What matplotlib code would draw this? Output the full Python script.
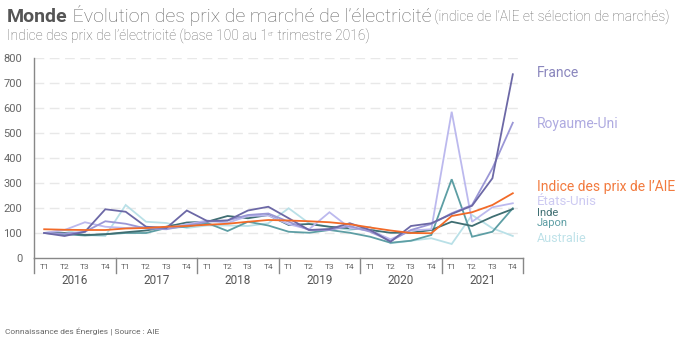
import matplotlib.pyplot as plt
from matplotlib.transforms import blended_transform_factory

plt.rcParams['font.family'] = ['Roboto', 'DejaVu Sans']

# Trimestres 2016 -> 2021
years = ["2016", "2017", "2018", "2019", "2020", "2021"]
quarters = ["T1", "T2", "T3", "T4"]

# Indices (base 100 au 1er trimestre 2016)
france = [100, 88, 105, 195, 185, 125, 120, 190, 148, 150, 190, 205,
          159, 112, 116, 139, 112, 65, 128, 139, 176, 209, 319, 735]
royaume_uni = [100, 97, 105, 147, 137, 118, 115, 130, 145, 150, 172, 178,
               145, 112, 112, 128, 105, 68, 112, 136, 179, 212, 359, 541]
etats_unis = [100, 112, 143, 125, 120, 125, 120, 135, 150, 140, 168, 170,
              135, 115, 183, 120, 110, 75, 110, 115, 585, 145, 203, 219]
inde = [100, 100, 92, 95, 103, 110, 125, 142, 145, 168, 159, 172,
        132, 136, 125, 119, 112, 101, 101, 112, 145, 128, 165, 196]
japon = [100, 95, 90, 95, 100, 100, 120, 125, 140, 108, 145, 130,
         105, 101, 112, 101, 85, 61, 69, 92, 315, 85, 105, 199]
australie = [100, 112, 92, 88, 212, 145, 140, 120, 130, 130, 128, 139,
             199, 139, 125, 112, 125, 59, 69, 79, 56, 172, 119, 88]
indice_aie = [115, 113, 112, 112, 118, 120, 125, 128, 133, 137, 145, 152,
              150, 147, 143, 135, 122, 110, 100, 99, 168, 183, 212, 259]

# nom, valeurs, couleur de ligne, couleur du libellé, y du libellé (px), taille
series = [
    ("Australie", australie, "#b9e0e7", "#bfe2e9", 238, 9),
    ("Japon", japon, "#5d9ea4", "#5d9ea4", 223.5, 8),
    ("Inde", inde, "#3f6e72", "#3f6e72", 213.5, 8),
    ("États-Unis", etats_unis, "#bcb9ee", "#cdcaf2", 201.5, 9.5),
    ("Royaume-Uni", royaume_uni, "#9b97d6", "#aeaae0", 124, 10),
    ("France", france, "#6c68a6", "#8a86bd", 73, 10),
    ("Indice des prix de l\u2019AIE", indice_aie, "#f26a28", "#f27a3e", 187, 10),
]

W, H = 700, 344
fig = plt.figure(figsize=(W / 100, H / 100), dpi=100)
ax = fig.add_axes([34 / W, (H - 258) / H, (523 - 34) / W, 200 / H])

x = list(range(len(years) * len(quarters)))
for name, vals, color, lcolor, ly, fs in series:
    ax.plot(x, vals, color=color, lw=1.3, solid_joinstyle="miter", zorder=3)
    fig.text(537 / W, 1 - ly / H, name, color=lcolor, fontsize=fs,
             va="center", ha="left")

ax.set_xlim(-0.5, 23.5)
ax.set_ylim(0, 800)
ax.set_yticks(range(0, 801, 100))
ax.tick_params(axis="y", length=0, pad=8.5, labelsize=8, labelcolor="#666666")
for t in range(100, 801, 100):
    ax.axhline(t, color="#e8e8e8", lw=1, dashes=(7, 4), zorder=1)

ax.set_xticks(x)
ax.set_xticklabels(quarters * len(years))
ax.tick_params(axis="x", length=0, pad=4, labelsize=6, labelcolor="#666666")

for side in ["top", "right"]:
    ax.spines[side].set_visible(False)
for side in ["left", "bottom"]:
    ax.spines[side].set_color("#888888")
    ax.spines[side].set_linewidth(1)

# séparateurs d'années et libellés
trans = blended_transform_factory(ax.transData, ax.transAxes)
for i in range(len(years) + 1):
    ax.plot([i * 4 - 0.5] * 2, [0, -0.075], transform=trans, color="#888888",
            lw=1, clip_on=False)
for i, yr in enumerate(years):
    ax.text(i * 4 + 1.5, -0.115, yr, transform=trans, ha="center", va="center",
            fontsize=8.5, color="#555555")


def write_row(pieces, x0, y0):
    # écrit des morceaux de texte les uns à la suite des autres
    renderer = fig.canvas.get_renderer()
    px = x0
    for txt, fs, fw, col, dy in pieces:
        t = fig.text(px / W, 1 - (y0 - dy) / H, txt, fontsize=fs, fontweight=fw,
                     color=col, ha="left", va="baseline")
        px = t.get_window_extent(renderer).x1


fig.canvas.draw()
write_row([("Monde", 14, "bold", "#555555", 0),
           (" \u00c9volution des prix de march\u00e9 de l\u2019\u00e9lectricit\u00e9", 14, "light", "#666666", 0),
           (" (indice de l\u2019AIE et s\u00e9lection de march\u00e9s)", 10, "light", "#666666", 0)],
          7, 22)
write_row([("Indice des prix de l\u2019\u00e9lectricit\u00e9 (base 100 au 1", 10, "light", "#666666", 0),
           ("er", 5.5, "light", "#666666", 4.5),
           (" trimestre 2016)", 10, "light", "#666666", 0)],
          7, 41)
fig.text(5 / W, 1 - 334 / H, "Connaissance des \u00c9nergies | Source : AIE",
         fontsize=6, color="#666666", ha="left", va="baseline")

fig.savefig("out.png", dpi=100)
